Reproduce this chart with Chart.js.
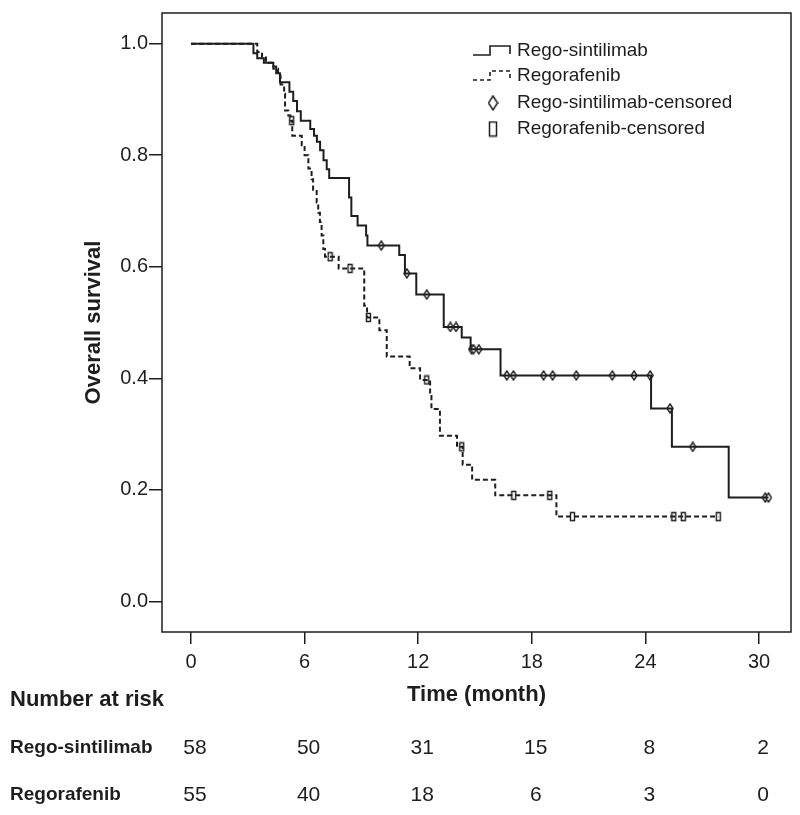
<!DOCTYPE html>
<html>
<head>
<meta charset="utf-8">
<script src="https://cdn.jsdelivr.net/npm/chart.js@4.4.1/dist/chart.umd.min.js"></script>
<style>
  body { margin: 0; background: #fff; }
  #wrap { width: 800px; height: 815px; }
</style>
</head>
<body>
<div id="wrap"><canvas id="kmChart"></canvas></div>
<script>
// Kaplan-Meier overall survival

const xTicks = [0, 6, 12, 18, 24, 30];
const yTicks = [0, 0.2, 0.4, 0.6, 0.8, 1.0];

// Rego-sintilimab: step points (month, survival)
const sintTimes = [0, 3.3, 3.5, 3.85, 4.35, 4.5, 4.7, 5.2, 5.4, 5.6, 5.8, 6.3, 6.5, 6.65, 6.82, 7.0, 7.17, 7.3,
  8.35, 8.47, 8.8, 9.25, 9.32, 11.0, 11.3, 11.9, 13.35, 14.3, 14.77, 16.35, 24.3, 25.4, 28.4, 30.5];
const sintSurv = [1, 0.983, 0.974, 0.966, 0.959, 0.947, 0.931, 0.914, 0.897, 0.879, 0.862, 0.847, 0.835, 0.824, 0.809, 0.791, 0.775, 0.759,
  0.724, 0.691, 0.674, 0.656, 0.638, 0.621, 0.588, 0.550, 0.492, 0.473, 0.452, 0.405, 0.346, 0.277, 0.186, 0.186];
const sintCensored = [10.05, 11.4, 12.45, 13.7, 14.0, 14.82, 14.92, 15.2, 16.68, 17.03, 18.62, 19.1, 20.35,
  22.25, 23.4, 24.25, 25.3, 26.5, 30.33, 30.5];

// Regorafenib: step points (month, survival)
const regoTimes = [0, 3.5, 3.75, 3.96, 4.35, 4.6, 4.73, 4.92, 4.97, 5.14, 5.25, 5.35, 5.85, 6.0, 6.2, 6.37, 6.45, 6.64, 6.72, 6.81, 6.9, 6.99, 7.08,
  7.8, 9.15, 9.3, 9.95, 10.34, 11.55, 12.1, 12.63, 12.7, 13.15, 14.05, 14.35, 14.85, 16.07, 19.3, 27.85];
const regoSurv = [1, 0.985, 0.975, 0.966, 0.955, 0.943, 0.927, 0.910, 0.880, 0.871, 0.862, 0.835, 0.818, 0.800, 0.776, 0.757, 0.738, 0.715, 0.697, 0.680, 0.656, 0.632, 0.618,
  0.597, 0.530, 0.509, 0.486, 0.439, 0.418, 0.397, 0.368, 0.345, 0.297, 0.277, 0.245, 0.218, 0.190, 0.152, 0.152];
const regoCensored = [5.32, 7.35, 8.4, 9.37, 12.45, 14.3, 17.05, 18.95, 20.15, 25.5, 26.0, 27.85];

// Number at risk
const riskLabels = ['Rego-sintilimab', 'Regorafenib'];
const riskSint = [58, 50, 31, 15, 8, 2];
const riskRego = [55, 40, 18, 6, 3, 0];

const seriesNames = ['Rego-sintilimab', 'Regorafenib', 'Rego-sintilimab-censored', 'Regorafenib-censored'];

const INK = '#1e1e1e';
const FONT = '"Liberation Sans", Arial, sans-serif';

// survival value of a step curve at time t
function survAt(times, surv, t) {
  let v = surv[0];
  for (let i = 0; i < times.length; i++) {
    if (times[i] <= t) v = surv[i];
  }
  return v;
}

function stepPoints(times, surv) {
  return times.map((t, i) => ({ x: t, y: surv[i] }));
}

function censorPoints(cens, times, surv) {
  return cens.map(t => ({ x: t, y: survAt(times, surv, t) }));
}

// small marker images for censored points
function makeMarker(kind, w, h, lw) {
  const c = document.createElement('canvas');
  c.width = w + 2;
  c.height = h + 2;
  const g = c.getContext('2d');
  g.fillStyle = '#fff';
  g.strokeStyle = INK;
  g.lineWidth = lw;
  g.beginPath();
  if (kind === 'diamond') {
    g.moveTo(1 + w / 2, 1);
    g.lineTo(1 + w, 1 + h / 2);
    g.lineTo(1 + w / 2, 1 + h);
    g.lineTo(1, 1 + h / 2);
    g.closePath();
  } else {
    g.rect(1.5, 1.5, w - 1, h - 1);
  }
  g.fill();
  g.stroke();
  return c;
}

const diamondMark = makeMarker('diamond', 6, 9, 1.4);
const rectMark = makeMarker('rect', 5, 9, 1.4);

// frame, legend and number-at-risk table
const extrasPlugin = {
  id: 'extras',
  afterDraw(chart) {
    const ctx = chart.ctx;
    const a = chart.chartArea;
    const xs = chart.scales.x;
    ctx.save();

    // frame
    ctx.strokeStyle = INK;
    ctx.lineWidth = 1.5;
    ctx.strokeRect(a.left, a.top, a.right - a.left, a.bottom - a.top);

    // legend
    const lx = 473, tx = 517;
    const rows = [51, 76, 103, 129];
    ctx.lineWidth = 1.6;
    [[], [4, 3]].forEach((dash, i) => {
      ctx.setLineDash(dash);
      ctx.beginPath();
      ctx.moveTo(lx, rows[i] + 4);
      ctx.lineTo(lx + 17, rows[i] + 4);
      ctx.lineTo(lx + 17, rows[i] - 5);
      ctx.lineTo(lx + 37, rows[i] - 5);
      ctx.lineTo(lx + 37, rows[i] + 3);
      ctx.stroke();
    });
    ctx.setLineDash([]);
    const bigDiamond = makeMarker('diamond', 9, 14, 1.5);
    const bigRect = makeMarker('rect', 8, 15, 1.5);
    ctx.drawImage(bigDiamond, 493 - bigDiamond.width / 2, rows[2] - bigDiamond.height / 2);
    ctx.drawImage(bigRect, 493 - bigRect.width / 2, rows[3] - bigRect.height / 2);

    ctx.fillStyle = INK;
    ctx.font = '19px ' + FONT;
    ctx.textAlign = 'left';
    ctx.textBaseline = 'middle';
    seriesNames.forEach((name, i) => ctx.fillText(name, tx, rows[i]));

    // number at risk
    ctx.font = 'bold 22px ' + FONT;
    ctx.fillText('Number at risk', 10, 700);
    const rowY = [748, 795];
    ctx.font = 'bold 19px ' + FONT;
    riskLabels.forEach((lab, i) => ctx.fillText(lab, 10, rowY[i]));
    ctx.font = '21px ' + FONT;
    ctx.textAlign = 'center';
    [riskSint, riskRego].forEach((vals, r) => {
      vals.forEach((n, i) => {
        ctx.fillText(String(n), xs.getPixelForValue(xTicks[i]) + 4, rowY[r]);
      });
    });
    ctx.restore();
  }
};

Chart.defaults.font.family = FONT;
Chart.defaults.color = INK;

const ctx = document.getElementById('kmChart').getContext('2d');
new Chart(ctx, {
  type: 'line',
  data: {
    datasets: [
      {
        label: seriesNames[0],
        data: stepPoints(sintTimes, sintSurv),
        stepped: true,
        borderColor: INK,
        borderWidth: 2,
        pointRadius: 0,
        fill: false
      },
      {
        label: seriesNames[1],
        data: stepPoints(regoTimes, regoSurv),
        stepped: true,
        borderColor: INK,
        borderWidth: 2,
        borderDash: [5, 3],
        pointRadius: 0,
        fill: false
      },
      {
        label: seriesNames[2],
        data: censorPoints(sintCensored, sintTimes, sintSurv),
        showLine: false,
        pointStyle: diamondMark,
        pointRadius: 4
      },
      {
        label: seriesNames[3],
        data: censorPoints(regoCensored, regoTimes, regoSurv),
        showLine: false,
        pointStyle: rectMark,
        pointRadius: 4
      }
    ]
  },
  options: {
    responsive: true,
    maintainAspectRatio: false,
    animation: false,
    layout: { padding: { top: 4, right: 9, left: 0, bottom: 0 } },
    plugins: {
      legend: { display: false },
      tooltip: { enabled: false }
    },
    scales: {
      x: {
        type: 'linear',
        min: -1.53,
        max: 31.69,
        afterBuildTicks: s => { s.ticks = xTicks.map(v => ({ value: v })); },
        afterFit: s => { s.height = 183; },
        grid: { display: true, drawOnChartArea: false, drawTicks: true, tickLength: 12, color: INK, lineWidth: 1.5 },
        border: { display: false },
        ticks: { font: { size: 20 }, color: INK, padding: 6, maxRotation: 0, autoSkip: false },
        title: {
          display: true,
          text: 'Time (month)',
          font: { size: 22, weight: 'bold' },
          color: INK,
          padding: { top: 0, bottom: 107 }
        }
      },
      y: {
        min: -0.055,
        max: 1.055,
        afterBuildTicks: s => { s.ticks = yTicks.map(v => ({ value: v })); },
        afterFit: s => { s.width = 162; },
        grid: { display: true, drawOnChartArea: false, drawTicks: true, tickLength: 13, color: INK, lineWidth: 1.5 },
        border: { display: false },
        ticks: { font: { size: 20 }, color: INK, padding: 1, callback: v => v.toFixed(1) },
        title: {
          display: true,
          text: 'Overall survival',
          font: { size: 22, weight: 'bold' },
          color: INK,
          padding: { top: 81, bottom: 0 }
        }
      }
    }
  },
  plugins: [extrasPlugin]
});
</script>
</body>
</html>
